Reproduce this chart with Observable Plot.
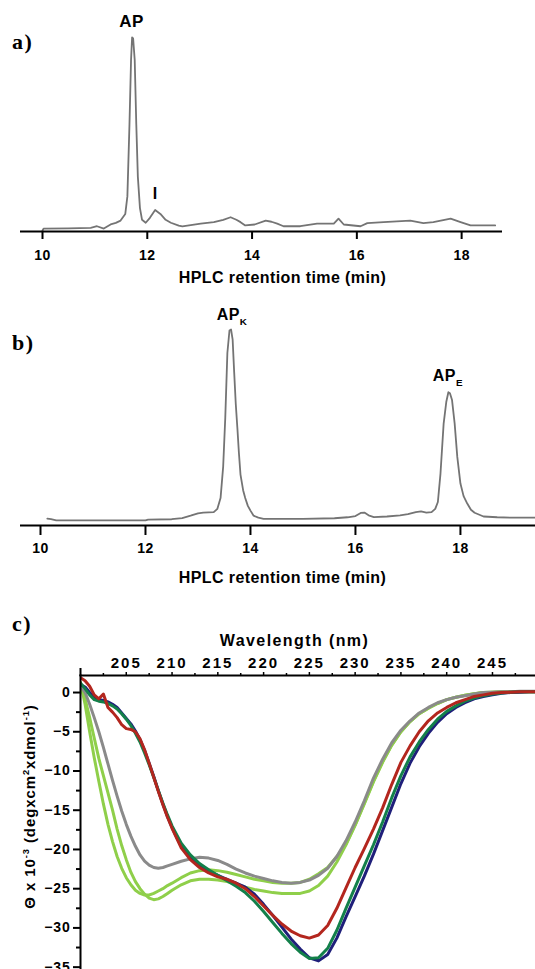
<!DOCTYPE html>
<html><head><meta charset="utf-8">
<script src="https://cdn.jsdelivr.net/npm/d3@7"></script>
<script src="https://cdn.jsdelivr.net/npm/@observablehq/plot@0.6"></script>
<style>
body{margin:0;background:#fff;}
#root{position:relative;width:535px;height:969px;overflow:hidden;background:#fff;}
.panel{position:absolute;left:0;}
.letter{position:absolute;left:12px;font-family:"Liberation Serif","Times New Roman",serif;font-weight:bold;font-size:22px;line-height:22px;letter-spacing:1.5px;color:#000;}
svg.pa text, svg.pb text{letter-spacing:0.4px;}
svg.pc .xt text{letter-spacing:2px;}
svg.pc .yt text{letter-spacing:0.8px;}
svg.pc .ttl text{letter-spacing:1.4px;}
svg.pc .ytl text{letter-spacing:0.9px;}
</style></head>
<body><div id="root"></div>
<script>
// ---------- Panel a: HPLC trace ----------
const timeA = [10.0,10.02,10.5,10.92,11.04,11.17,11.3,11.4,11.49,11.58,11.62,11.66,11.69,11.71,11.73,11.76,11.79,11.82,11.86,11.9,11.97,12.05,12.15,12.25,12.35,12.45,12.6,12.67,13.02,13.27,13.45,13.59,13.7,13.78,13.87,14.05,14.26,14.37,14.48,14.6,14.92,15.24,15.56,15.65,15.75,16.07,16.2,16.51,17.02,17.27,17.46,17.79,17.98,18.17,18.64];
const valueA = [0.5,1.5,1.6,1.9,2.7,1.5,3.6,4.4,5.6,9,18,55,88,99.5,99,88,55,28,12,6,4.5,7,11,9,6,4.5,3,2.6,4.0,4.8,6,7.3,6,4.8,3.1,3.6,5.6,5,4.0,2.7,2.7,4.0,4.0,6.6,3.6,2.7,4.3,4.8,5.6,4.3,4.8,6.6,4.8,3.1,3.1];
const ticksA = [10,12,14,16,18];
const peakLabelsA = [{t:11.7, v:99.5, label:"AP", dy:-15.5, size:17}, {t:12.15, v:11, label:"I", dy:-16, size:16}];
const xTitleHPLC = "HPLC retention time (min)";

// ---------- Panel b: HPLC trace ----------
const timeB = [10.13,10.2,10.3,11.0,12.0,12.05,12.5,12.7,12.86,13.0,13.1,13.3,13.37,13.43,13.48,13.52,13.56,13.6,13.63,13.66,13.69,13.72,13.75,13.78,13.81,13.86,13.9,13.95,14.0,14.06,14.15,14.25,15.0,15.6,15.85,16.0,16.1,16.17,16.25,16.35,16.6,16.85,17.0,17.15,17.25,17.35,17.45,17.52,17.57,17.62,17.68,17.73,17.77,17.8,17.84,17.89,17.94,18.0,18.06,18.13,18.2,18.27,18.44,18.7,19.0,19.43];
const valueB = [3.5,3.2,2.6,2.6,2.6,3.0,3.2,3.8,5.0,6.2,6.6,6.8,8.5,14,30,55,88,99.5,100,95,78,62,50,37,26,18,14,10,7.6,5,4,3.4,3.4,3.7,4.2,4.8,6.4,6.6,5.2,4.3,4.6,5.2,5.8,6.8,7.2,6.6,6.8,8.5,12,26.5,52,63,68,67.5,64,52,35,21.4,15,11.2,8,6.5,4.6,4.2,4.0,4.0];
const ticksB = [10,12,14,16,18];
const peakLabelsB = [{t:13.6, v:100, label:"APK", dx:2.5, dy:-15}, {t:17.78, v:68, label:"APE", dx:-1, dy:-16}];

// ---------- Panel c: CD spectra ----------
const wavelength = [200,200.5,201,201.5,202,202.5,203,203.5,204,204.5,205,205.5,206,206.5,207,207.5,208,208.5,209,209.5,210,211,212,213,214,215,216,217,218,219,220,221,222,223,224,225,226,227,228,229,230,231,232,233,234,235,236,237,238,239,240,241,242,243,244,245,246,247,248,249,250];
const lightGreen1 = [1.3,-1.5,-5.0,-8.3,-11.3,-14.2,-16.8,-19.0,-20.9,-22.4,-23.6,-24.5,-25.2,-25.6,-25.8,-25.8,-25.6,-25.3,-25.0,-24.6,-24.3,-23.6,-23.0,-22.7,-22.6,-22.7,-22.9,-23.2,-23.5,-23.8,-24.0,-24.2,-24.3,-24.3,-24.2,-23.8,-23.1,-22.3,-20.9,-19.3,-16.9,-14.2,-11.4,-8.9,-6.7,-5.0,-3.7,-2.7,-2.0,-1.4,-0.9,-0.6,-0.35,-0.15,0.0,0.05,0.1,0.1,0.1,0.1,0.1];
const lightGreen2 = [0.8,-0.8,-3.2,-5.8,-8.4,-10.6,-12.8,-15.0,-17.4,-19.5,-21.3,-22.9,-24.1,-25.0,-25.7,-26.2,-26.4,-26.3,-26.0,-25.6,-25.2,-24.5,-24.0,-23.8,-23.8,-23.9,-24.1,-24.4,-24.8,-25.1,-25.3,-25.5,-25.6,-25.6,-25.6,-25.3,-24.6,-23.4,-21.6,-19.4,-16.9,-14.1,-11.3,-8.8,-6.7,-5.0,-3.7,-2.7,-2.0,-1.4,-0.9,-0.6,-0.35,-0.15,0.0,0.05,0.1,0.1,0.1,0.1,0.1];
const grayCurve = [0.8,0.0,-1.5,-3.2,-5.0,-7.0,-9.1,-11.2,-13.2,-15.1,-16.8,-18.3,-19.6,-20.7,-21.5,-22.0,-22.3,-22.4,-22.3,-22.1,-21.9,-21.5,-21.2,-21.0,-21.1,-21.4,-21.9,-22.5,-23.0,-23.4,-23.7,-24.0,-24.2,-24.3,-24.2,-23.9,-23.3,-22.4,-20.9,-18.9,-16.5,-13.8,-10.9,-8.5,-6.4,-4.8,-3.6,-2.6,-1.9,-1.3,-0.9,-0.6,-0.4,-0.2,0.0,0.05,0.1,0.1,0.15,0.15,0.15];
const navyCurve = [1.0,0.7,0.0,-0.6,-0.9,-1.0,-1.2,-1.5,-1.9,-2.6,-3.3,-4.0,-4.9,-6.0,-7.4,-9.0,-10.7,-12.5,-14.2,-15.8,-17.2,-19.6,-21.1,-22.1,-22.8,-23.3,-23.8,-24.3,-24.8,-25.7,-27.0,-28.4,-29.9,-31.4,-32.7,-33.8,-34.2,-33.4,-31.3,-28.6,-26.0,-23.4,-20.6,-17.6,-14.6,-11.6,-9.0,-6.9,-5.2,-3.8,-2.7,-1.9,-1.3,-0.8,-0.5,-0.3,-0.1,0.0,0.05,0.1,0.1];
const greenCurve = [1.2,0.5,-0.3,-0.9,-1.1,-1.2,-1.4,-1.7,-2.1,-2.7,-3.4,-4.2,-5.2,-6.3,-7.7,-9.2,-10.8,-12.5,-14.1,-15.6,-17.0,-19.2,-20.7,-21.8,-22.6,-23.3,-24.0,-24.7,-25.5,-26.6,-27.9,-29.3,-30.7,-32.0,-33.1,-33.9,-33.8,-32.6,-30.3,-27.5,-24.8,-22.1,-19.4,-16.5,-13.4,-10.6,-8.2,-6.3,-4.7,-3.4,-2.4,-1.7,-1.1,-0.7,-0.4,-0.2,-0.05,0.05,0.1,0.1,0.1];
const redCurve = [1.9,1.5,0.8,-0.3,-0.8,-0.2,-1.9,-2.5,-3.2,-4.1,-4.6,-4.7,-5.0,-5.9,-7.3,-9.0,-10.8,-12.6,-14.3,-15.9,-17.3,-19.8,-21.3,-22.3,-23.0,-23.5,-23.8,-24.3,-25.0,-26.0,-27.2,-28.4,-29.5,-30.4,-31.0,-31.3,-30.9,-29.7,-27.5,-24.9,-22.3,-19.9,-17.4,-14.7,-11.7,-8.9,-6.8,-5.0,-3.6,-2.6,-1.9,-1.3,-0.9,-0.5,-0.3,-0.1,0.0,0.05,0.1,0.1,0.1];
const seriesC = [
  {name:"light green 1", values:lightGreen1, color:"#8fcf4a"},
  {name:"light green 2", values:lightGreen2, color:"#8fcf4a"},
  {name:"gray", values:grayCurve, color:"#8a8a8a"},
  {name:"navy", values:navyCurve, color:"#1f1f7a"},
  {name:"green", values:greenCurve, color:"#13804a"},
  {name:"red", values:redCurve, color:"#b3261e"}
];
const ticksCX = [205,210,215,220,225,230,235,240,245];
const minorCX = [202.5,207.5,212.5,217.5,222.5,227.5,232.5,237.5,242.5,247.5];
const ticksCY = [0,-5,-10,-15,-20,-25,-30,-35];
const minorCY = [-2.5,-7.5,-12.5,-17.5,-22.5,-27.5,-32.5];
const xTitleC = "Wavelength (nm)";
const yTitleC = "Θ x 10-3 (degxcm2xdmol-1)";
const yTitleParts = [["Θ x 10",""],["-3","sup"],[" (degxcm",""],["2","sup"],["xdmol",""],["-1","sup"],[")",""]];

const font = "'Liberation Sans', Arial, Helvetica, sans-serif";
const SVGNS = "http://www.w3.org/2000/svg";

function rich(svg, key, parts, base) {
  svg.querySelectorAll("text").forEach(t => {
    if (t.textContent !== key) return;
    t.textContent = "";
    let shift = 0;
    for (const [s, kind] of parts) {
      const ts = document.createElementNS(SVGNS, "tspan");
      const target = kind === "sup" ? -0.42 * base : kind === "sub" ? 0.32 * base : 0;
      ts.setAttribute("dy", (target - shift).toFixed(2));
      if (kind) ts.setAttribute("font-size", (base * 0.62).toFixed(1));
      shift = target;
      ts.textContent = s;
      t.appendChild(ts);
    }
  });
}

const root = document.getElementById("root");
function place(el, top) {
  const wrap = document.createElement("div");
  wrap.className = "panel";
  wrap.style.top = top + "px";
  wrap.appendChild(el);
  root.appendChild(wrap);
}
function letter(txt, top) {
  const d = document.createElement("div");
  d.className = "letter"; d.style.top = top + "px"; d.textContent = txt;
  root.appendChild(d);
}

// Panel a
const dataA = timeA.map((t, i) => ({t, v: valueA[i]}));
const plotA = Plot.plot({
  width: 535, height: 290,
  marginLeft: 20, marginRight: 33, marginTop: 36, marginBottom: 59,
  className: "pa",
  style: {fontFamily: font, fontWeight: "bold", fontSize: "14px", color: "#000", background: "transparent", overflow: "visible"},
  x: {domain: [9.58, 18.78]},
  y: {domain: [0, 100], axis: null},
  marks: [
    Plot.line(dataA, {x: "t", y: "v", stroke: "#747474", strokeWidth: 1.8}),
    Plot.ruleY([0], {stroke: "#000", strokeWidth: 2}),
    Plot.axisX({ticks: ticksA, tickSize: 8, tickPadding: 11, strokeWidth: 2, label: null, fontSize: 14}),
    Plot.text([xTitleHPLC], {frameAnchor: "bottom", textAnchor: "middle", dy: 46, dx: 21, fontSize: 16, lineAnchor: "middle", fill: "#000"}),
    Plot.text(peakLabelsA, {x: "t", y: "v", text: "label", fontSize: 16, lineAnchor: "middle", fill: "#000"})
  ]
});
plotA.querySelectorAll("text").forEach(t => {
  const lab = peakLabelsA.find(p => p.label === t.textContent);
  if (lab) { t.setAttribute("font-size", lab.size); t.setAttribute("dy", lab.dy); }
});
place(plotA, 0);
letter("a)", 31);

// Panel b
const dataB = timeB.map((t, i) => ({t, v: valueB[i]}));
const plotB = Plot.plot({
  width: 535, height: 310,
  marginLeft: 20, marginRight: 0, marginTop: 39, marginBottom: 75,
  className: "pb",
  style: {fontFamily: font, fontWeight: "bold", fontSize: "14px", color: "#000", background: "transparent", overflow: "visible"},
  x: {domain: [9.619, 19.43]},
  y: {domain: [0, 100], axis: null},
  marks: [
    Plot.line(dataB, {x: "t", y: "v", stroke: "#747474", strokeWidth: 1.8}),
    Plot.ruleY([0], {stroke: "#000", strokeWidth: 2}),
    Plot.axisX({ticks: ticksB, tickSize: 10, tickPadding: 8, strokeWidth: 2, label: null, fontSize: 14}),
    Plot.text([xTitleHPLC], {frameAnchor: "bottom", textAnchor: "middle", dy: 52, dx: 4.5, fontSize: 16, lineAnchor: "middle", fill: "#000"}),
    Plot.text([peakLabelsB[0]], {x: "t", y: "v", text: "label", dx: peakLabelsB[0].dx, dy: peakLabelsB[0].dy, fontSize: 16, lineAnchor: "middle", fill: "#000"}),
    Plot.text([peakLabelsB[1]], {x: "t", y: "v", text: "label", dx: peakLabelsB[1].dx, dy: peakLabelsB[1].dy, fontSize: 16, lineAnchor: "middle", fill: "#000"})
  ]
});
rich(plotB, "APK", [["AP",""],["K","sub"]], 16);
rich(plotB, "APE", [["AP",""],["E","sub"]], 16);
place(plotB, 290);
letter("b)", 332);

// Panel c
const dataC = seriesC.flatMap(s => s.values.map((v, i) => ({name: s.name, w: wavelength[i], v})));
const plotC = Plot.plot({
  width: 535, height: 369,
  marginLeft: 80, marginRight: 0, marginTop: 75, marginBottom: 0,
  className: "pc",
  style: {fontFamily: font, fontWeight: "bold", fontSize: "14px", color: "#000", background: "transparent", overflow: "visible"},
  x: {domain: [200, 249.7]},
  y: {domain: [-35.3, 2.17]},
  marks: [
    ...seriesC.map(s => Plot.line(dataC.filter(d => d.name === s.name), {x: "w", y: "v", stroke: s.color, strokeWidth: 3, clip: true, strokeLinejoin: "round"})),
    Plot.frame({anchor: "top", stroke: "#000", strokeWidth: 2}),
    Plot.frame({anchor: "left", stroke: "#000", strokeWidth: 2}),
    Plot.axisX({anchor: "top", ticks: ticksCX, tickSize: 4, tickPadding: 4, strokeWidth: 1.5, label: null, fontSize: 15, className: "xt"}),
    Plot.axisX({anchor: "top", ticks: minorCX, tickSize: 3, tickFormat: () => "", strokeWidth: 1.5, label: null}),
    Plot.axisX({anchor: "top", ticks: [200], tickSize: 8, tickFormat: () => "", strokeWidth: 2, label: null}),
    Plot.axisY({ticks: ticksCY, tickSize: 7, tickPadding: 3, strokeWidth: 2, label: null, fontSize: 14, className: "yt"}),
    Plot.axisY({ticks: minorCY, tickSize: 4, tickFormat: () => "", strokeWidth: 2, label: null}),
    Plot.text([xTitleC], {frameAnchor: "top", textAnchor: "middle", dy: -35, dx: -13.5, fontSize: 16, lineAnchor: "middle", fill: "#000", className: "ttl"}),
    Plot.text([yTitleC], {frameAnchor: "left", textAnchor: "middle", rotate: -90, dx: -50, dy: -16, fontSize: 15, lineAnchor: "middle", fill: "#000", className: "ytl"})
  ]
});
rich(plotC, yTitleC, yTitleParts, 15);
place(plotC, 600);
letter("c)", 613);
</script>
</body></html>
